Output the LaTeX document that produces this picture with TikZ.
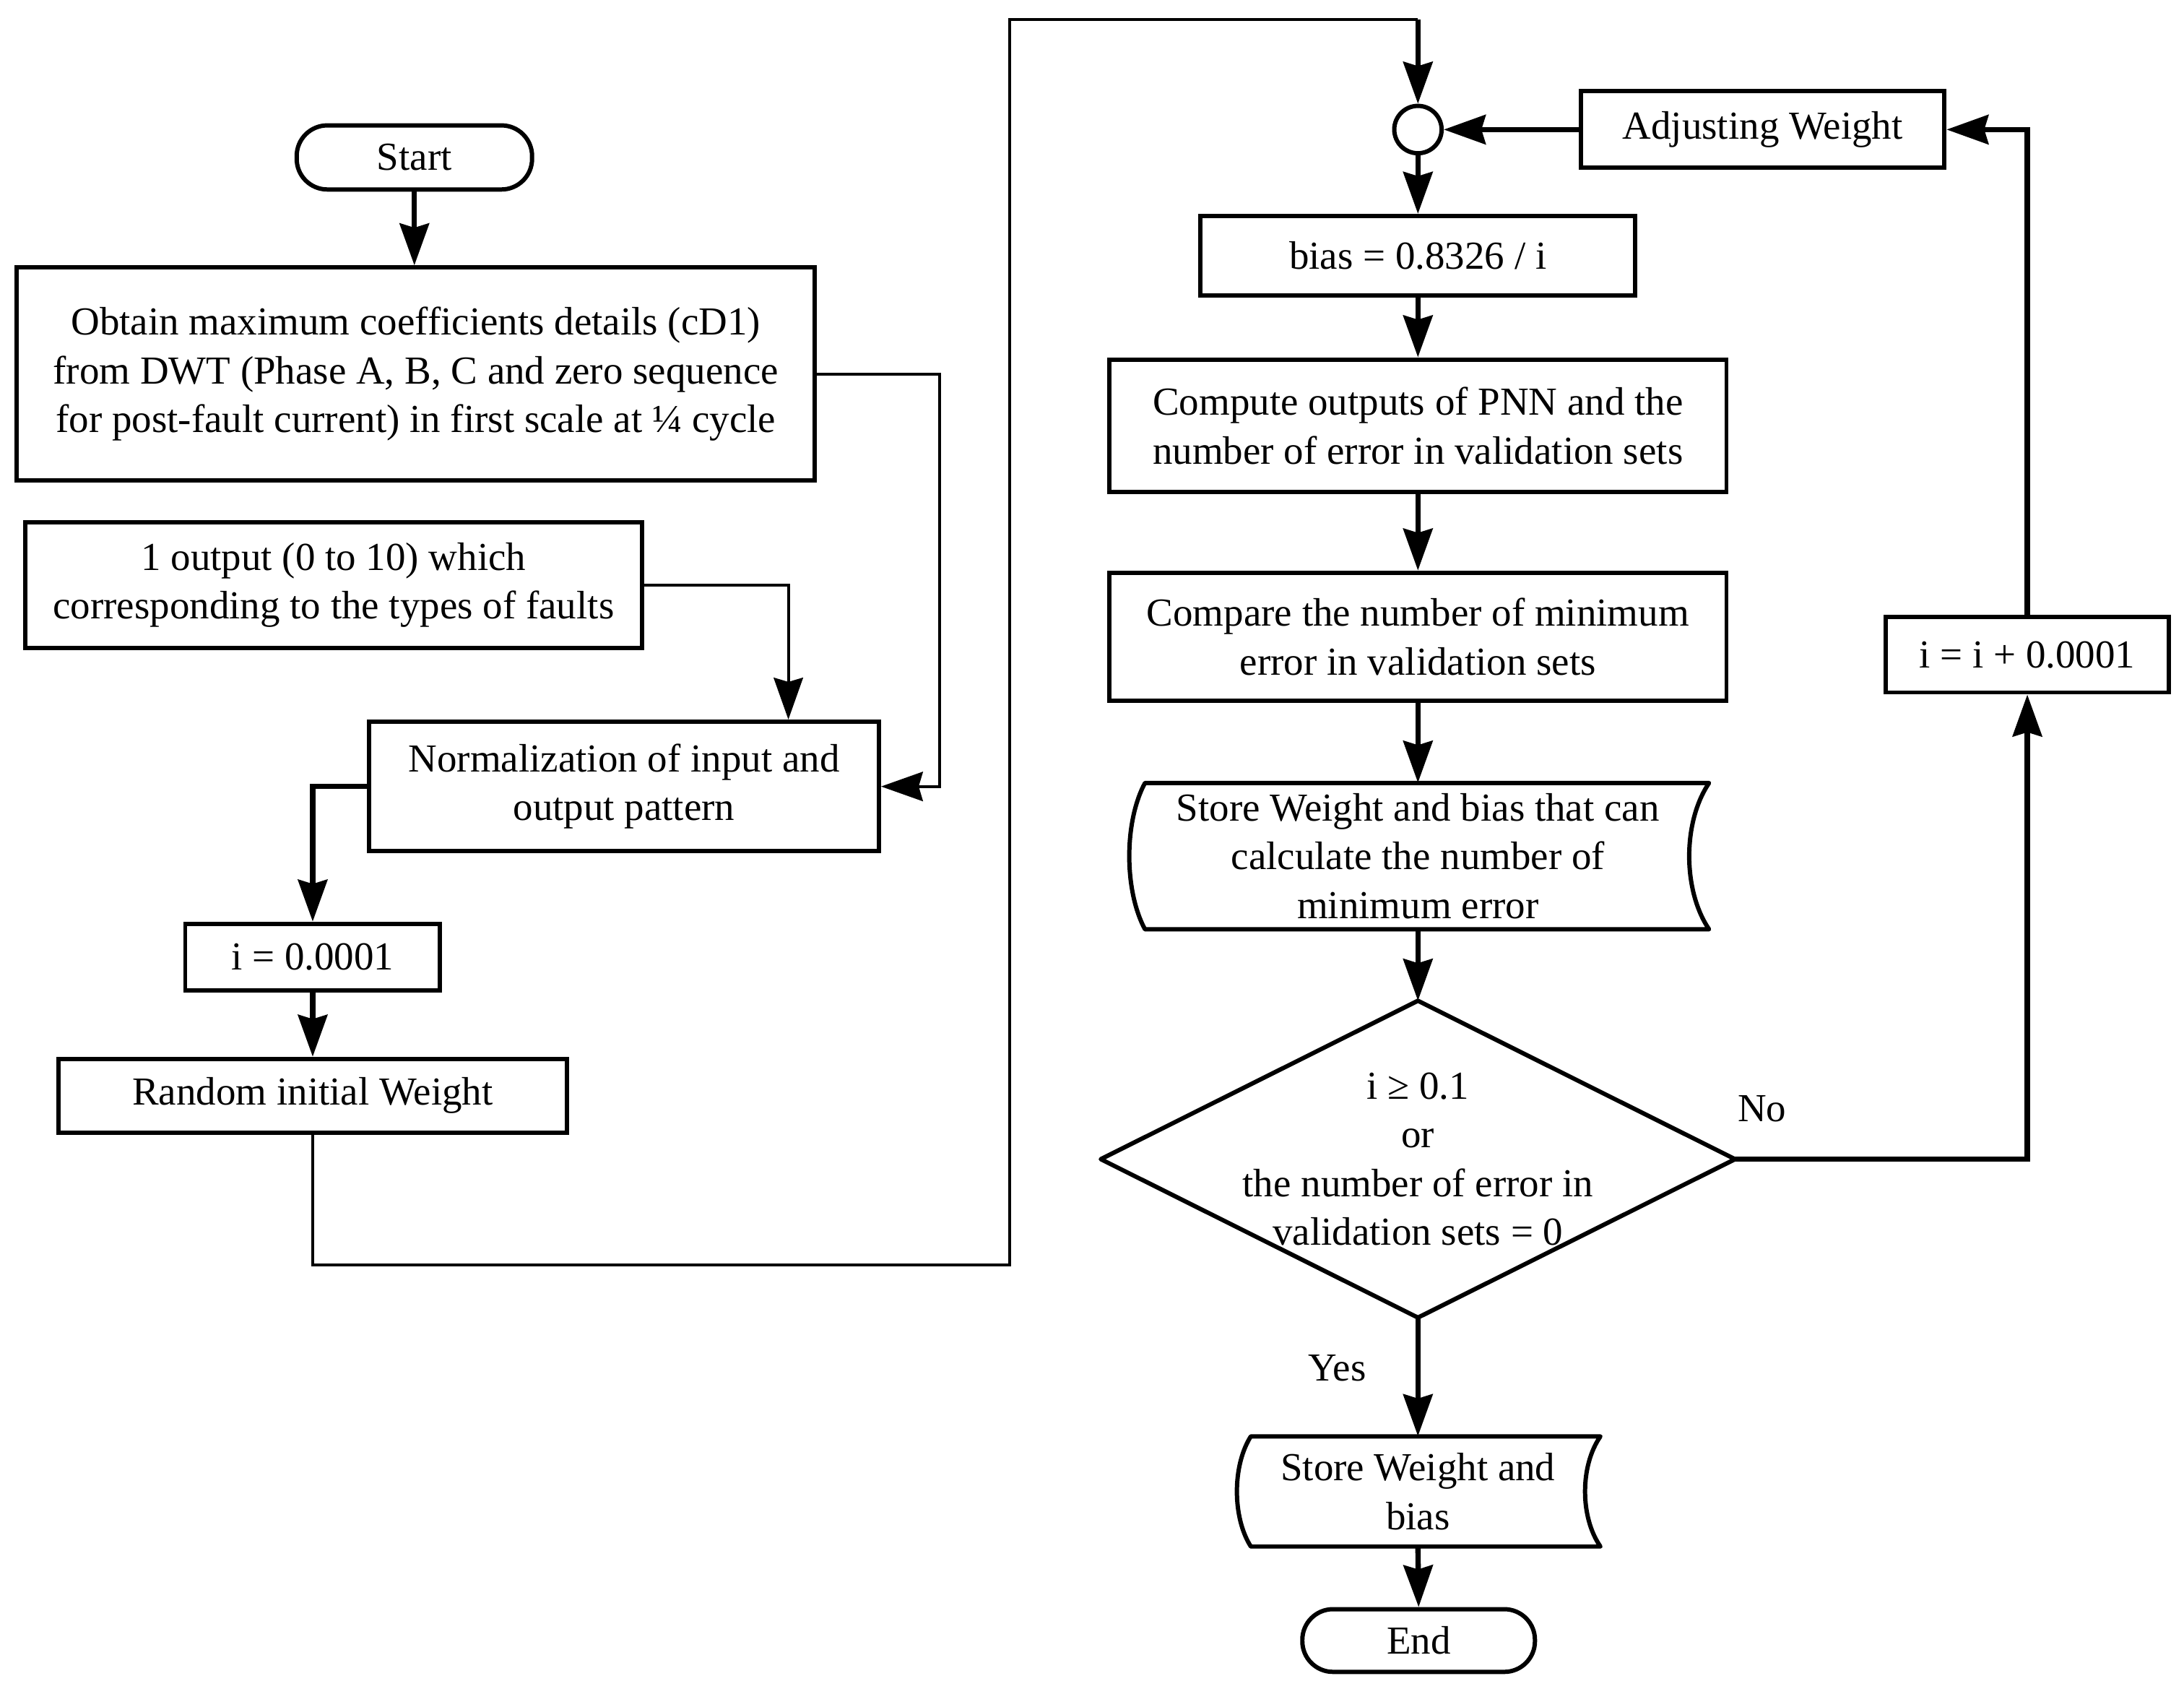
\documentclass[tikz,border=0pt]{standalone}
\usepackage{fontspec}
\setmainfont{Liberation Serif}
\usetikzlibrary{arrows.meta,calc}
\begin{document}
\begin{tikzpicture}[x=1pt,y=-1pt,
  txt/.style={inner sep=0pt, align=center, font=\fontsize{28.5}{35}\selectfont},
  box/.style={txt, draw, line width=3.1pt},
  term/.style={box, rounded corners=22pt},
  tip/.tip={Stealth[length=30pt,width=21pt,inset=3pt]},
  arr/.style={line width=3.8pt, -tip},
  route/.style={line width=2.1pt},
  routearr/.style={line width=2.1pt, -tip},
  outline/.style={line width=3.1pt, line join=round},
]
\useasboundingbox (0,0) rectangle (1568,1212);

% left column
\node[term, minimum width=169pt, minimum height=46pt] (start) at (297.5,113) {Start};
\node[box, minimum width=573pt, minimum height=153pt] (obtain) at (298.5,268.5)
  {Obtain maximum coefficients details (cD1)\\from DWT (Phase A, B, C and zero sequence\\for post-fault current) in first scale at ¼ cycle};
\node[box, minimum width=443pt, minimum height=90pt] (out) at (239.5,420)
  {1 output (0 to 10) which\\corresponding to the types of faults};
\node[box, minimum width=366pt, minimum height=93pt] (norm) at (448,564.5)
  {Normalization of input and\\output pattern};
\node[box, minimum width=183pt, minimum height=48pt] (i0) at (224.5,687) {i = 0.0001};
\node[box, minimum width=365pt, minimum height=53pt] (rand) at (224.5,786.5) {Random initial Weight};

% right column
\node[circle, draw, line width=3.1pt, minimum size=34pt, inner sep=0pt] (circ) at (1018,93) {};
\node[box, minimum width=261pt, minimum height=55pt] (adj) at (1265.5,93) {Adjusting Weight};
\node[box, minimum width=312pt, minimum height=57pt] (bias) at (1018,183.5) {bias = 0.8326 / i};
\node[box, minimum width=443pt, minimum height=95pt] (comp) at (1018,305.5)
  {Compute outputs of PNN and the\\number of error in validation sets};
\node[box, minimum width=443pt, minimum height=92pt] (cmpr) at (1018,457)
  {Compare the number of minimum\\error in validation sets};
\node[txt, minimum width=405pt, minimum height=105pt] (store) at (1018,614.5)
  {Store Weight and bias that can\\calculate the number of\\minimum error};
\draw[outline] (822,562) -- (1227,562) .. controls (1208,590) and (1208,639) .. (1227,667)
  -- (822,667) .. controls (807,639) and (807,590) .. (822,562) -- cycle;
\node[txt, minimum width=455pt, minimum height=227pt] (dec) at (1018,832) {};
\draw[outline] (dec.north) -- (dec.east) -- (dec.south) -- (dec.west) -- cycle;
\node[txt] (dectext) at (1018,832) {i ≥ 0.1\\or\\the number of error in\\validation sets = 0};
\node[box, minimum width=203pt, minimum height=54pt] (iinc) at (1455.5,470) {i = i + 0.0001};
\node[txt, minimum width=251pt, minimum height=79pt] (store2) at (1018,1070.5) {Store Weight and\\bias};
\draw[outline] (898,1031) -- (1149,1031) .. controls (1134.3,1052) and (1134.3,1089) .. (1149,1110)
  -- (898,1110) .. controls (884.7,1089) and (884.7,1052) .. (898,1031) -- cycle;
\node[term, minimum width=167pt, minimum height=45pt] (end) at (1018.5,1177.5) {End};

\node[txt] (yes) at (960,982) {Yes};
\node[txt] (no) at (1265,796) {No};

% connectors
\draw[arr] (start.south) -- (start.south |- obtain.north);
\draw[routearr] (obtain.east) -- ++(88,0) |- (norm.east);
\draw[routearr] (out.east) -| ([xshift=118pt]norm.north);
\draw[arr] (norm.west) -| (i0.north);
\draw[arr] (i0.south) -- (rand.north);
\coordinate (topc) at (1018,14);
\draw[route] (rand.south) |- (725,908) -- (725,14) -- (topc);
\draw[arr] (topc) -- (circ.north);
\draw[arr] (adj.west) -- (circ.east);
\draw[arr] (circ.south) -- (bias.north);
\draw[arr] (bias.south) -- (comp.north);
\draw[arr] (comp.south) -- (cmpr.north);
\draw[arr] (cmpr.south) -- (store.north);
\draw[arr] (store.south) -- (dec.north);
\draw[arr] (dec.east) -| (iinc.south);
\draw[arr] (iinc.north) |- (adj.east);
\draw[arr] (dec.south) -- (store2.north);
\draw[arr] (store2.south) -- (end.north);
\end{tikzpicture}
\end{document}
